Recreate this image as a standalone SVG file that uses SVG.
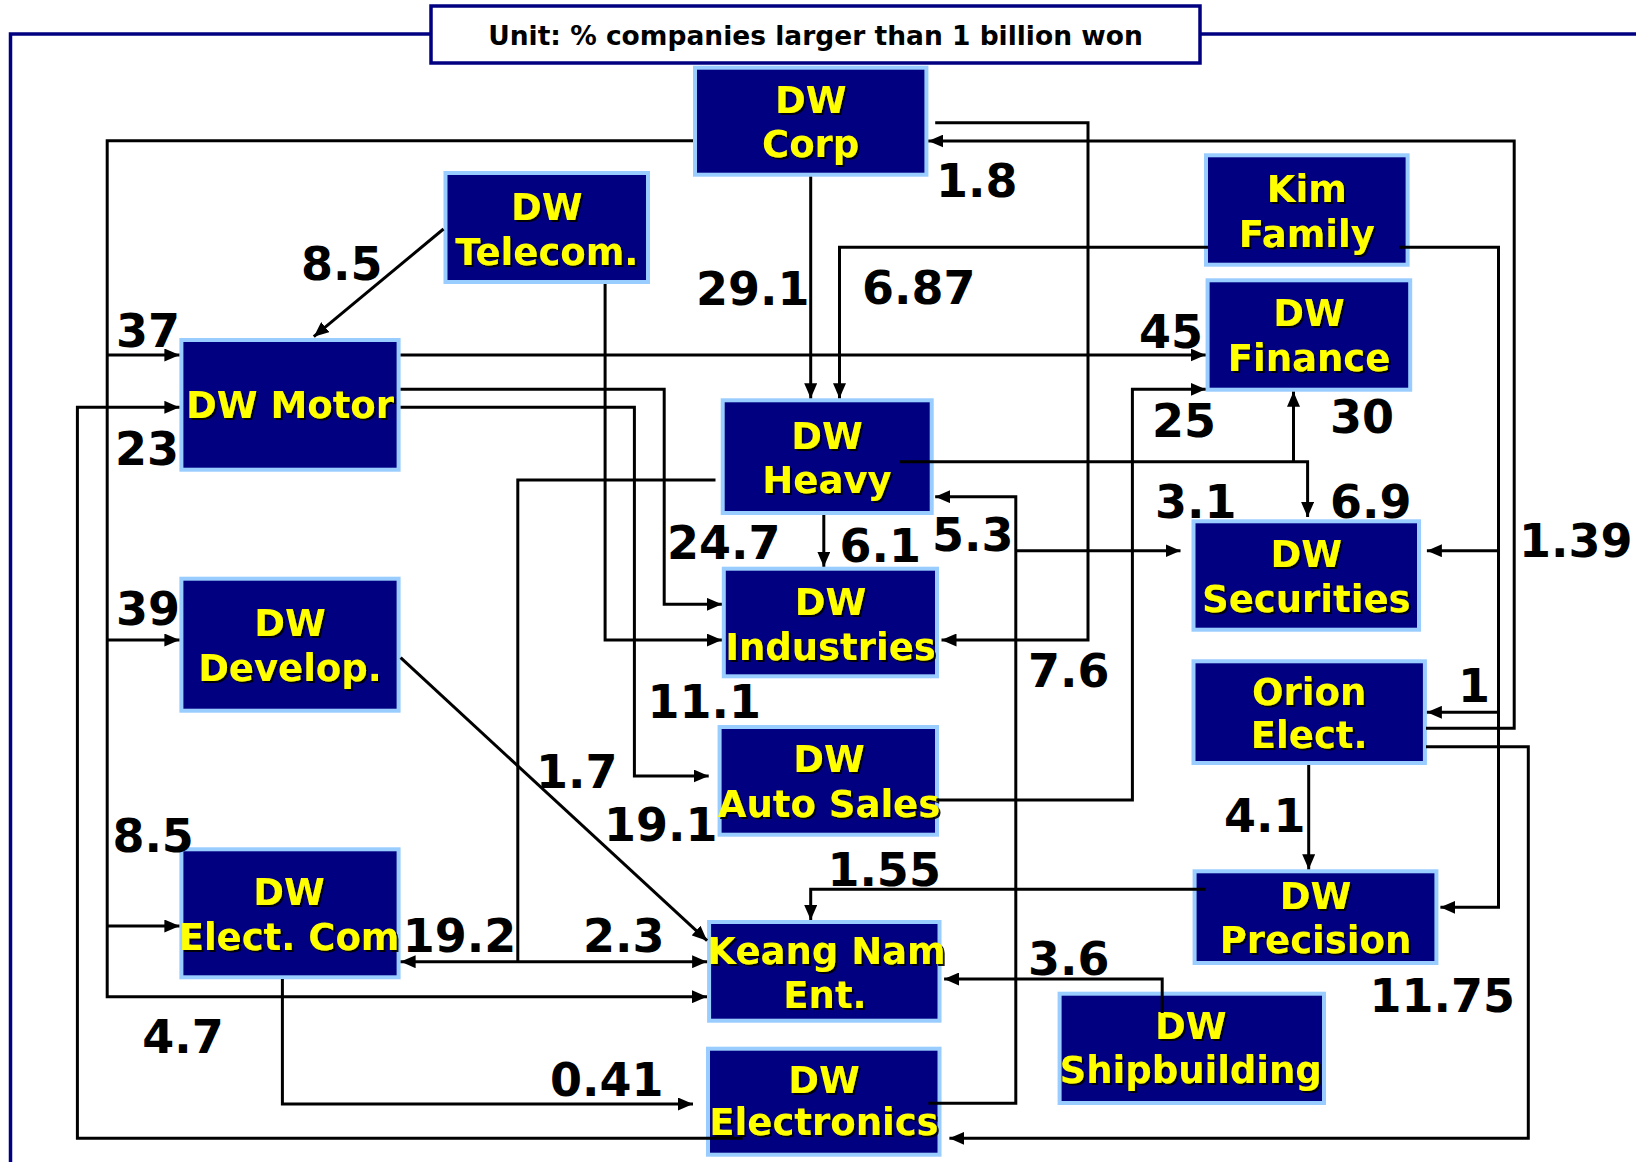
<svg xmlns="http://www.w3.org/2000/svg" width="1636" height="1162" viewBox="0 0 1636 1162">
<style>
.node rect{fill:#000080;stroke:#99CCFF;stroke-width:4}
.node text{font-family:"DejaVu Sans","Liberation Sans",sans-serif;font-weight:bold;font-size:37px;fill:#FFFF00;text-anchor:middle;filter:url(#sh)}
.lbl{font-family:"DejaVu Sans","Liberation Sans",sans-serif;font-weight:bold;font-size:46px;fill:#000}
.c path{fill:none;stroke:#000;stroke-width:3}
.c .a{marker-end:url(#ah)}
.c .b{marker-start:url(#ah);marker-end:url(#ah)}
.frame{fill:none;stroke:#000080;stroke-width:3.5}
</style>
<defs>
<marker id="ah" viewBox="0 0 15 13" refX="15" refY="6.5" markerWidth="15" markerHeight="13" markerUnits="userSpaceOnUse" orient="auto-start-reverse">
<path d="M0,0 L15,6.5 L0,13 z" fill="#000"/>
</marker>
<filter id="sh" x="-5%" y="-10%" width="115%" height="130%">
<feDropShadow dx="2" dy="2" stdDeviation="0.4" flood-color="#000000" flood-opacity="0.9"/>
</filter>
</defs>
<rect width="1636" height="1162" fill="#fff"/>
<g id="frame">
<path class="frame" d="M431,34 H10.5 V1162"/>
<path class="frame" d="M1200,34 H1636"/>
<rect x="431" y="6" width="769" height="57" fill="#fff" stroke="#000080" stroke-width="3.5"/>
<text x="815.5" y="45" font-family="DejaVu Sans, Liberation Sans, sans-serif" font-weight="bold" font-size="26.5" text-anchor="middle" fill="#000">Unit: % companies larger than 1 billion won</text>
</g>
<g id="nodes">
<g id="corp" class="node"><rect x="695" y="67.7" width="231.4" height="107"/><text x="810.7" y="112.7">DW</text><text x="810.7" y="156.5">Corp</text></g>
<g id="telecom" class="node"><rect x="445.5" y="173" width="202.5" height="109"/><text x="546.8" y="220">DW</text><text x="546.8" y="265">Telecom.</text></g>
<g id="kim" class="node"><rect x="1206" y="155.3" width="201.6" height="109.4"/><text x="1306.8" y="201.7">Kim</text><text x="1306.8" y="246.7">Family</text></g>
<g id="finance" class="node"><rect x="1207.6" y="280.3" width="202.6" height="109.4"/><text x="1309" y="326">DW</text><text x="1309" y="371">Finance</text></g>
<g id="motor" class="node"><rect x="181.4" y="340" width="217.2" height="129.7"/><text x="290" y="418.3">DW Motor</text></g>
<g id="heavy" class="node"><rect x="722.7" y="400.3" width="209" height="112.7"/><text x="827" y="448.7">DW</text><text x="827" y="493">Heavy</text></g>
<g id="securities" class="node"><rect x="1193.5" y="521.3" width="225.5" height="108.4"/><text x="1306.3" y="567.3">DW</text><text x="1306.3" y="611.7">Securities</text></g>
<g id="develop" class="node"><rect x="181.4" y="578.7" width="217.2" height="132"/><text x="290" y="636">DW</text><text x="290" y="680.7">Develop.</text></g>
<g id="industries" class="node"><rect x="723.8" y="568.7" width="213.2" height="107.6"/><text x="830.5" y="614.5">DW</text><text x="830.5" y="659.5">Industries</text></g>
<g id="orion" class="node"><rect x="1193.5" y="661.3" width="231.4" height="101.7"/><text x="1309.2" y="705">Orion</text><text x="1309.2" y="748.3">Elect.</text></g>
<g id="autosales" class="node"><rect x="719.6" y="727" width="217.4" height="107.7"/><text x="829" y="771.7">DW</text><text x="829" y="816.7">Auto Sales</text></g>
<g id="electcom" class="node"><rect x="181.4" y="849.3" width="217.2" height="128"/><text x="289" y="905">DW</text><text x="289" y="950">Elect. Com</text></g>
<g id="precision" class="node"><rect x="1194.6" y="871.3" width="241.8" height="91.7"/><text x="1315.5" y="909.3">DW</text><text x="1315.5" y="953.3">Precision</text></g>
<g id="keangnam" class="node"><rect x="709.1" y="922" width="230.4" height="98.7"/><text x="826.5" y="964">Keang Nam</text><text x="825" y="1008">Ent.</text></g>
<g id="shipbuilding" class="node"><rect x="1059.6" y="993.7" width="264.4" height="109.3"/><text x="1190.7" y="1039.3">DW</text><text x="1190.7" y="1083.3">Shipbuilding</text></g>
<g id="electronics" class="node"><rect x="708" y="1048.7" width="231.5" height="106"/><text x="824" y="1093">DW</text><text x="824" y="1135">Electronics</text></g>
</g>
<g id="connectors" class="c">
<path class="a" d="M693,140.7 H107.2 V996.7 H707"/>
<path class="a" d="M107.2,355 H179.4"/>
<path class="a" d="M107.2,640 H179.4"/>
<path class="a" d="M107.2,926 H179.4"/>
<path class="a" d="M742.7,1138.3 H77.4 V407.3 H179.4"/>
<path class="a" d="M443.5,229 L313.8,336.7"/>
<path class="a" d="M605.1,284 V640 H721.8"/>
<path class="a" d="M400.6,355 H1205.6"/>
<path class="a" d="M400.6,389.3 H664.2 V604.3 H721.8"/>
<path class="a" d="M400.6,407.3 H634.4 V776 H708.7"/>
<path class="a" d="M810.7,176.7 V398.3"/>
<path class="a" d="M1208,247.3 H839.5 V398.3"/>
<path class="a" d="M935.2,122.7 H1088 V640 H941.5"/>
<path class="a" d="M1426,728.3 H1514.2 V141 H928.4"/>
<path class="a" d="M1399,247.3 H1498.5 V907.3 H1440.4"/>
<path class="a" d="M1498.5,550.7 H1426.9"/>
<path class="a" d="M1498.5,712.3 H1426.9"/>
<path class="a" d="M1426,746.7 H1528.3 V1138.3 H949.4"/>
<path class="a" d="M899.7,461.7 H1307.6 V517"/>
<path class="a" d="M1293.5,461.7 V391.7"/>
<path d="M715.5,480 H517.8 V961.7"/>
<path class="b" d="M400.6,961.7 H707.1"/>
<path class="a" d="M823.8,515 V566.7"/>
<path class="a" d="M928.4,1103.3 H1015.8 V496.7 H935.2"/>
<path class="a" d="M1015.8,550.7 H1180.5"/>
<path class="a" d="M936.3,800 H1132.4 V389.3 H1205.6"/>
<path class="a" d="M400.6,657.7 L707.1,940.7"/>
<path class="a" d="M1205.6,889.3 H810.7 V920"/>
<path class="a" d="M1162.2,1013 V979 H944.1"/>
<path class="a" d="M282.4,979 V1104 H693"/>
<path class="a" d="M1308.7,765 V869.3"/>
</g>
<g id="labels">
<text class="lbl" x="936" y="197">1.8</text>
<text class="lbl" x="696" y="305">29.1</text>
<text class="lbl" x="862" y="304">6.87</text>
<text class="lbl" x="301" y="280">8.5</text>
<text class="lbl" x="116" y="347">37</text>
<text class="lbl" x="115" y="465">23</text>
<text class="lbl" x="1139" y="348">45</text>
<text class="lbl" x="1152" y="436.5">25</text>
<text class="lbl" x="1330" y="433">30</text>
<text class="lbl" x="1155" y="518">3.1</text>
<text class="lbl" x="1330" y="518">6.9</text>
<text class="lbl" x="1519" y="556.7">1.39</text>
<text class="lbl" x="667" y="559">24.7</text>
<text class="lbl" x="839.5" y="561.7">6.1</text>
<text class="lbl" x="932" y="550.7">5.3</text>
<text class="lbl" x="1028" y="686.7">7.6</text>
<text class="lbl" x="1458" y="701.7">1</text>
<text class="lbl" x="116" y="625">39</text>
<text class="lbl" x="647.5" y="718.3">11.1</text>
<text class="lbl" x="536" y="788.3">1.7</text>
<text class="lbl" x="604" y="841">19.1</text>
<text class="lbl" x="1224" y="831.7">4.1</text>
<text class="lbl" x="112.4" y="851.7">8.5</text>
<text class="lbl" x="827.4" y="886">1.55</text>
<text class="lbl" x="402.7" y="951.7">19.2</text>
<text class="lbl" x="583" y="951.7">2.3</text>
<text class="lbl" x="1028" y="975">3.6</text>
<text class="lbl" x="1369.4" y="1011.7">11.75</text>
<text class="lbl" x="142.3" y="1053.3">4.7</text>
<text class="lbl" x="550" y="1096">0.41</text>
</g>
</svg>
